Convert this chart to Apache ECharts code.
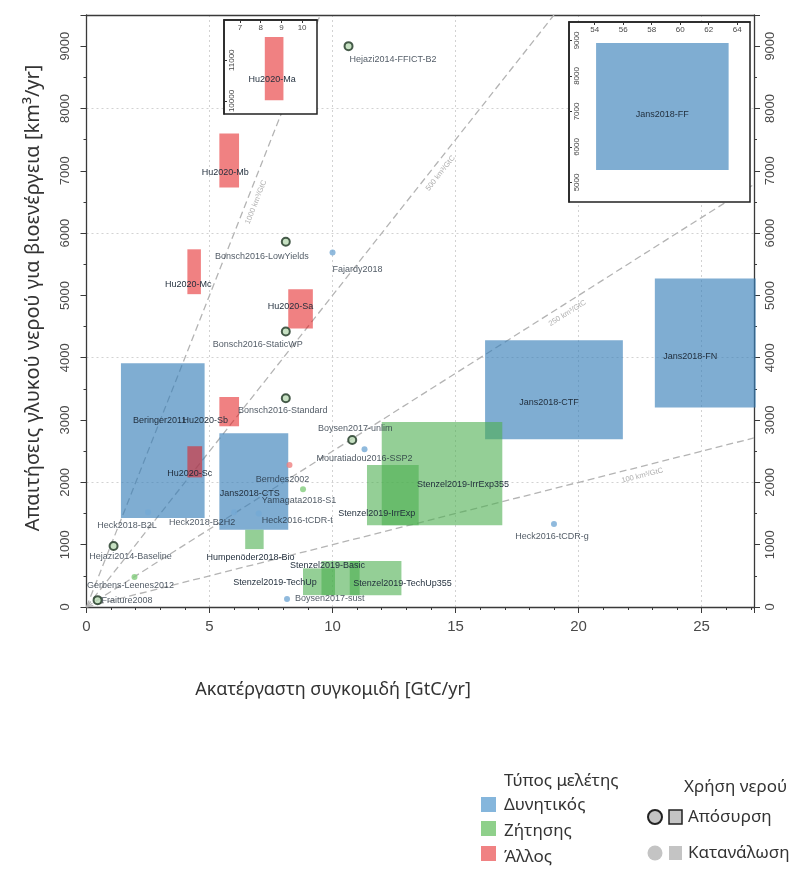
<!DOCTYPE html>
<html>
<head>
<meta charset="utf-8">
<script src="https://cdn.jsdelivr.net/npm/echarts@6/dist/echarts.min.js"></script>
<style>
  html, body { margin: 0; padding: 0; background: #fff; }
  #chart { width: 790px; height: 875px; }
</style>
</head>
<body>
<div id="chart"></div>
<script>
// ---- Study ranges: [name, harvest min, harvest max, water min, water max] ----
const potentialRanges = [
  ['Beringer2011', 1.4, 4.8, 1430, 3910],
  ['Jans2018-CTS', 5.4, 8.2, 1240, 2790],
  ['Jans2018-CTF', 16.2, 21.8, 2690, 4280],
  ['Jans2018-FN', 23.1, 27.2, 3200, 5270]
];
const demandRanges = [
  ['Stenzel2019-IrrExp355', 12.0, 16.9, 1310, 2970],
  ['Stenzel2019-IrrExp', 11.4, 13.5, 1310, 2280],
  ['Humpenöder2018-Bio', 6.45, 7.2, 930, 1240],
  ['Stenzel2019-TechUp', 8.8, 10.1, 190, 620],
  ['Stenzel2019-Basic', 9.55, 11.1, 190, 740],
  ['Stenzel2019-TechUp355', 10.7, 12.8, 190, 740]
];
const otherRanges = [
  ['Hu2020-Mb', 5.4, 6.2, 6730, 7600],
  ['Hu2020-Mc', 4.1, 4.65, 5020, 5740],
  ['Hu2020-Sa', 8.2, 9.2, 4470, 5100],
  ['Hu2020-Sb', 5.4, 6.2, 2900, 3370],
  ['Hu2020-Sc', 4.1, 4.7, 2080, 2580]
];
// studies outside the main axes, shown in the two inset panels
const insetOtherRanges = [['Hu2020-Ma', 8.2, 9.1, 10020, 11570]];
const insetPotentialRanges = [['Jans2018-FF', 54.1, 63.4, 5350, 8930]];

// ---- Single estimates: [name, harvest, water] ----
const withdrawalPoints = [
  ['Hejazi2014-FFICT-B2', 10.65, 9000],
  ['Bonsch2016-LowYields', 8.1, 5860],
  ['Bonsch2016-StaticWP', 8.1, 4420],
  ['Bonsch2016-Standard', 8.1, 3350],
  ['Boysen2017-unlim', 10.8, 2680],
  ['Hejazi2014-Baseline', 1.1, 980],
  ['Fraiture2008', 0.45, 110]
];
const consumptionPotential = [
  ['Fajardy2018', 10.0, 5690],
  ['Mouratiadou2016-SSP2', 11.3, 2530],
  ['Heck2018-B2L', 2.5, 1520],
  ['Heck2018-B2H2', 6.0, 1520],
  ['Heck2016-tCDR-t', 7.0, 1500],
  ['Heck2016-tCDR-g', 19.0, 1330],
  ['Boysen2017-sust', 8.15, 130]
];
const consumptionDemand = [
  ['Yamagata2018-S1', 8.8, 1890],
  ['Gerbens-Leenes2012', 1.95, 480]
];
const consumptionOther = [['Berndes2002', 8.25, 2280]];

// ---- Water intensity reference lines (km³ per GtC) ----
const ratioLines = [1000, 500, 250, 100];
const ratioLabelAt = [6.55, 14.1, 19.35, 22.5];

// ---- Axis extents and ticks ----
const xRange = [0, 27.13];
const yRange = [0, 9500];
const xTickStep = 5;
const yTickStep = 1000;
const yGridStep = 2000;
const inset1X = [6.23, 10.72], inset1Y = [9680, 11990];
const inset2X = [52.2, 64.9], inset2Y = [4450, 9520];

// ---- Text ----
const xTitle = 'Ακατέργαστη συγκομιδή [GtC/yr]';
const yTitle = 'Απαιτήσεις γλυκού νερού για βιοενέργεια [km³/yr]';
const typeTitle = 'Τύπος μελέτης';
const typeNames = ['Δυνητικός', 'Ζήτησης', 'Άλλος'];
const useTitle = 'Χρήση νερού';
const useNames = ['Απόσυρση', 'Κατανάλωση'];

// ---- Styling ----
const fillPotential = 'rgba(55,126,184,0.64)';
const fillDemand = 'rgba(76,175,80,0.6)';
const fillOther = 'rgba(228,26,28,0.55)';
const dotPotential = '#74a9d4';
const dotDemand = '#82cc7c';
const dotOther = '#ef7f80';
const labelColor = '#1f2c3a';
const labelFont = 'Liberation Sans';

// label nudges in pixels from the mark (or range centre): [dx, dy, align]
const labelNudge = {
  'Beringer2011': [-3, -20], 'Jans2018-CTS': [-4, 12], 'Jans2018-CTF': [-5, 13],
  'Jans2018-FN': [-15, 13], 'Stenzel2019-IrrExp355': [21, 11], 'Stenzel2019-IrrExp': [-16, 18],
  'Humpenöder2018-Bio': [-4, 18], 'Stenzel2019-TechUp': [-44, 1], 'Stenzel2019-Basic': [-13, -13],
  'Stenzel2019-TechUp355': [27, 5], 'Hu2020-Mb': [-4, 12], 'Hu2020-Mc': [-6, 13],
  'Hu2020-Sa': [-10, -2], 'Hu2020-Sb': [-24, 9], 'Hu2020-Sc': [-5, 12],
  'Hu2020-Ma': [-2, 11], 'Jans2018-FF': [0, 8],
  'Hejazi2014-FFICT-B2': [1, 13, 'left'], 'Bonsch2016-LowYields': [-24, 15],
  'Bonsch2016-StaticWP': [-28, 13], 'Bonsch2016-Standard': [-3, 12],
  'Boysen2017-unlim': [3, -11], 'Hejazi2014-Baseline': [17, 11], 'Fraiture2008': [4, 0, 'left'],
  'Fajardy2018': [0, 17, 'left'], 'Mouratiadou2016-SSP2': [0, 9], 'Heck2018-B2L': [-21, 13],
  'Heck2018-B2H2': [-32, 10], 'Heck2016-tCDR-t': [3, 7, 'left'], 'Heck2016-tCDR-g': [-2, 12],
  'Boysen2017-sust': [8, 0, 'left'], 'Yamagata2018-S1': [-4, 11], 'Gerbens-Leenes2012': [-4, 8],
  'Berndes2002': [-7, 15]
};

// main plotting area in pixels
const G = { left: 86.5, top: 15, width: 667.5, height: 592 };

// ---- Series builders ----
function rangeRects(rows, fill, xi, yi, z) {
  return {
    type: 'custom', xAxisIndex: xi, yAxisIndex: yi, z: z, silent: true,
    data: rows.map(r => [r[1], r[2], r[3], r[4]]),
    encode: { x: [0, 1], y: [2, 3] },
    renderItem: function (params, api) {
      const a = api.coord([api.value(0), api.value(3)]);
      const b = api.coord([api.value(1), api.value(2)]);
      return {
        type: 'rect',
        shape: { x: a[0], y: a[1], width: b[0] - a[0], height: b[1] - a[1] },
        style: { fill: fill }
      };
    }
  };
}
function rangeLabels(rows, xi, yi, z) {
  return {
    type: 'custom', xAxisIndex: xi, yAxisIndex: yi, z: z, silent: true,
    data: rows.map(r => [r[1], r[2], r[3], r[4]]),
    encode: { x: [0, 1], y: [2, 3] },
    renderItem: function (params, api) {
      const name = rows[params.dataIndex][0];
      const n = labelNudge[name] || [0, 0];
      const a = api.coord([api.value(0), api.value(3)]);
      const b = api.coord([api.value(1), api.value(2)]);
      return {
        type: 'text',
        x: (a[0] + b[0]) / 2 + n[0], y: (a[1] + b[1]) / 2 + n[1],
        style: { text: name, align: 'center', verticalAlign: 'middle', fill: labelColor,
                 fontSize: 9, fontFamily: labelFont }
      };
    }
  };
}
function pointSeries(rows, style, size, z) {
  return {
    type: 'scatter', xAxisIndex: 0, yAxisIndex: 0, z: z, silent: true,
    symbol: 'circle', symbolSize: size, itemStyle: style,
    data: rows.map(r => {
      const n = labelNudge[r[0]] || [0, 0];
      return {
        name: r[0], value: [r[1], r[2]],
        label: { show: true, position: 'inside', offset: [n[0], n[1]], align: n[2] || 'center',
                 verticalAlign: 'middle', formatter: r[0], color: labelColor,
                 fontSize: 9, fontFamily: labelFont }
      };
    })
  };
}

// pixel slope of each reference line, for rotating its label
const pxPerX = G.width / (xRange[1] - xRange[0]);
const pxPerY = G.height / (yRange[1] - yRange[0]);

const ratioSeries = ratioLines.map(r => {
  const xEnd = Math.min(xRange[1], yRange[1] / r);
  return {
    type: 'line', xAxisIndex: 0, yAxisIndex: 0, z: 1, silent: true,
    symbol: 'none', clip: true,
    lineStyle: { color: '#b4b4b4', width: 1.3, type: [7, 4] },
    data: [[0, 0], [xEnd, xEnd * r]]
  };
});
const ratioLabelSeries = {
  type: 'scatter', xAxisIndex: 0, yAxisIndex: 0, z: 1, silent: true,
  symbolSize: 0.1, itemStyle: { color: 'rgba(0,0,0,0)' },
  data: ratioLines.map((r, i) => {
    const deg = Math.atan(r * pxPerY / pxPerX) * 180 / Math.PI;
    return {
      value: [ratioLabelAt[i], ratioLabelAt[i] * r],
      label: { show: true, position: 'inside', rotate: deg, offset: [0, 9],
               formatter: r + ' km³/GtC', color: '#9a9a9a', fontSize: 7.5, fontFamily: labelFont }
    };
  })
};

const axisColor = '#3a3a3a';
const plain = v => String(v);
const tickLabel = { color: '#4a4a4a', fontFamily: 'Liberation Sans', formatter: plain };

const insetX = (gi, ext, split) => ({
  type: 'value', gridIndex: gi, position: 'top', min: ext[0], max: ext[1], splitNumber: split, z: 12,
  axisLine: { show: true, lineStyle: { color: '#222', width: 1.5 } },
  axisTick: { show: true, inside: true, length: 3, lineStyle: { color: '#333' } },
  axisLabel: Object.assign({ inside: true, fontSize: 8, margin: 4, showMinLabel: false, showMaxLabel: false }, tickLabel),
  splitLine: { show: false }
});
const insetY = (gi, ext, split) => ({
  type: 'value', gridIndex: gi, min: ext[0], max: ext[1], splitNumber: split, z: 12,
  axisLine: { show: true, lineStyle: { color: '#222', width: 1.5 } },
  axisTick: { show: true, inside: true, length: 3, lineStyle: { color: '#333' } },
  axisLabel: Object.assign({ inside: true, rotate: 90, fontSize: 8, margin: 4, showMinLabel: false, showMaxLabel: false }, tickLabel),
  splitLine: { show: false }
});

const legendText = (x, y, text) => ({
  type: 'text', x: x, y: y,
  style: { text: text, verticalAlign: 'middle', fontSize: 17, fontFamily: 'Noto Sans', fill: '#333' }
});

const option = {
  animation: false,
  backgroundColor: '#fff',
  grid: [
    { left: G.left, top: G.top, width: G.width, height: G.height, show: false },
    { left: 224, top: 20, width: 93, height: 94, show: true, backgroundColor: '#fff',
      borderColor: '#222', borderWidth: 1.5, z: 10 },
    { left: 569, top: 22, width: 181, height: 180, show: true, backgroundColor: '#fff',
      borderColor: '#222', borderWidth: 1.5, z: 10 }
  ],
  xAxis: [
    { type: 'value', gridIndex: 0, min: xRange[0], max: xRange[1], interval: xTickStep,
      axisLine: { show: true, onZero: false, lineStyle: { color: axisColor, width: 1.3 } },
      axisTick: { show: true, length: 6, lineStyle: { color: axisColor } },
      minorTick: { show: true, splitNumber: 5, length: 3, lineStyle: { color: axisColor } },
      axisLabel: Object.assign({ fontSize: 15, margin: 12, showMaxLabel: false }, tickLabel),
      splitLine: { show: true, lineStyle: { color: '#d2d2d2', type: [2, 3], width: 1 } } },
    { type: 'value', gridIndex: 0, position: 'top', min: xRange[0], max: xRange[1],
      axisLine: { show: true, onZero: false, lineStyle: { color: axisColor, width: 1.3 } },
      axisTick: { show: false }, axisLabel: { show: false }, splitLine: { show: false } },
    insetX(1, inset1X, 4),
    insetX(2, inset2X, 6)
  ],
  yAxis: [
    { type: 'value', gridIndex: 0, min: yRange[0], max: yRange[1], interval: yTickStep,
      axisLine: { show: true, onZero: false, lineStyle: { color: axisColor, width: 1.3 } },
      axisTick: { show: true, length: 6, lineStyle: { color: axisColor } },
      minorTick: { show: true, splitNumber: 2, length: 3, lineStyle: { color: axisColor } },
      axisLabel: Object.assign({ fontSize: 13, rotate: 90, margin: 15, showMaxLabel: false }, tickLabel),
      splitLine: { show: false } },
    { type: 'value', gridIndex: 0, position: 'right', min: yRange[0], max: yRange[1], interval: yTickStep,
      axisLine: { show: true, onZero: false, lineStyle: { color: axisColor, width: 1.3 } },
      axisTick: { show: true, length: 6, lineStyle: { color: axisColor } },
      minorTick: { show: true, splitNumber: 2, length: 3, lineStyle: { color: axisColor } },
      axisLabel: Object.assign({ fontSize: 13, rotate: 90, margin: 10, showMaxLabel: false }, tickLabel),
      splitLine: { show: false } },
    { type: 'value', gridIndex: 0, min: yRange[0], max: yRange[1], interval: yGridStep,
      axisLine: { show: false }, axisTick: { show: false }, axisLabel: { show: false },
      splitLine: { show: true, lineStyle: { color: '#d2d2d2', type: [2, 3], width: 1 } } },
    insetY(1, inset1Y, 2),
    insetY(2, inset2Y, 4)
  ],
  series: [
    ...ratioSeries,
    ratioLabelSeries,
    rangeRects(potentialRanges, fillPotential, 0, 0, 2),
    rangeRects(demandRanges, fillDemand, 0, 0, 3),
    rangeRects(otherRanges, fillOther, 0, 0, 4),
    rangeLabels(potentialRanges.concat(demandRanges, otherRanges), 0, 0, 6),
    pointSeries(consumptionPotential, { color: dotPotential }, 6, 7),
    pointSeries(consumptionDemand, { color: dotDemand }, 6, 7),
    pointSeries(consumptionOther, { color: dotOther }, 6, 7),
    pointSeries(withdrawalPoints, { color: '#b9d9b4', borderColor: '#1d3522', borderWidth: 2 }, 8, 7),
    rangeRects(insetOtherRanges, fillOther, 2, 3, 13),
    rangeLabels(insetOtherRanges, 2, 3, 14),
    rangeRects(insetPotentialRanges, fillPotential, 3, 4, 13),
    rangeLabels(insetPotentialRanges, 3, 4, 14)
  ],
  graphic: [
    { type: 'text', x: 333, y: 690, style: { text: xTitle, align: 'center', verticalAlign: 'middle',
      fontSize: 18, fontFamily: 'Noto Sans', fill: '#333' } },
    { type: 'text', x: 33, y: 298, rotation: Math.PI / 2, style: { text: yTitle, align: 'center',
      verticalAlign: 'middle', fontSize: 20, fontFamily: 'Noto Sans', fill: '#333' } },
    // study type key
    legendText(504, 781, typeTitle),
    { type: 'rect', shape: { x: 481, y: 797, width: 15, height: 15 }, style: { fill: '#85b6dc' } },
    { type: 'rect', shape: { x: 481, y: 821, width: 15, height: 15 }, style: { fill: '#8fd08b' } },
    { type: 'rect', shape: { x: 481, y: 846, width: 15, height: 15 }, style: { fill: '#f08283' } },
    legendText(504, 805, typeNames[0]),
    legendText(504, 831, typeNames[1]),
    legendText(504, 857, typeNames[2]),
    // water use key
    legendText(684, 787, useTitle),
    { type: 'circle', shape: { cx: 655, cy: 817, r: 7 }, style: { fill: '#c4c4c4', stroke: '#222', lineWidth: 2 } },
    { type: 'rect', shape: { x: 669, y: 810, width: 13, height: 14 }, style: { fill: '#c4c4c4', stroke: '#222', lineWidth: 1.5 } },
    legendText(688, 817, useNames[0]),
    { type: 'circle', shape: { cx: 655, cy: 853, r: 7.5 }, style: { fill: '#c4c4c4' } },
    { type: 'rect', shape: { x: 669, y: 846, width: 13, height: 14 }, style: { fill: '#c4c4c4' } },
    legendText(688, 853, useNames[1])
  ]
};

const chart = echarts.init(document.getElementById('chart'), null, { renderer: 'canvas' });
chart.setOption(option);
</script>
</body>
</html>
